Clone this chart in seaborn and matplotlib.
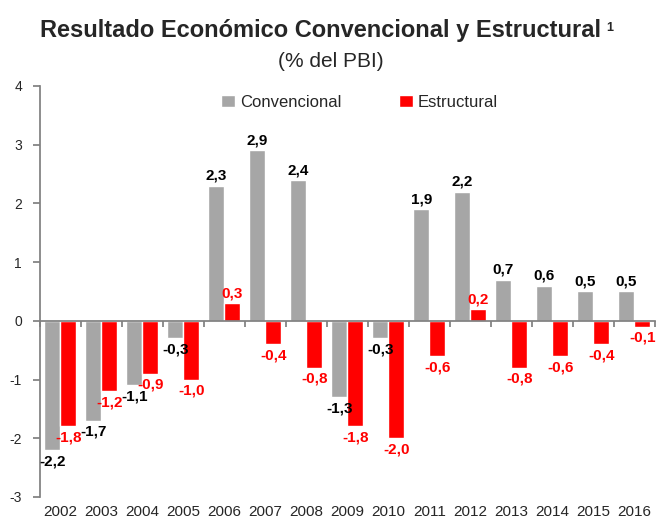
import numpy as np
import pandas as pd
import seaborn as sns
import matplotlib.pyplot as plt

# Data
years = [str(y) for y in range(2002, 2017)]
convencional = [-2.2, -1.7, -1.1, -0.3, 2.3, 2.9, 2.4, -1.3, -0.3, 1.9, 2.2, 0.7, 0.6, 0.5, 0.5]
estructural = [-1.8, -1.2, -0.9, -1.0, 0.3, -0.4, -0.8, -1.8, -2.0, -0.6, 0.2, -0.8, -0.6, -0.4, -0.1]
series_names = ["Convencional", "Estructural"]
series_colors = ["#A6A6A6", "#FF0000"]
label_colors = ["black", "#FF0000"]
yticks = [-3, -2, -1, 0, 1, 2, 3, 4]

df = pd.DataFrame({
    "year": years * 2,
    "serie": [series_names[0]] * len(years) + [series_names[1]] * len(years),
    "valor": convencional + estructural,
})

sns.set_theme(style="white")
plt.rcParams["font.family"] = ["Liberation Sans", "DejaVu Sans"]

fig = plt.figure(figsize=(6.61, 5.27), dpi=100)
ax = fig.add_axes([0.0605, 0.057, 0.93, 0.78])

sns.barplot(data=df, x="year", y="valor", hue="serie", hue_order=series_names,
            palette=series_colors, width=0.78, saturation=1, ax=ax, legend=True)

# value labels
for cont, color in zip(ax.containers, label_colors):
    for bar in cont:
        v = bar.get_height()
        x = bar.get_x() + bar.get_width() / 2
        txt = f"{v:.1f}".replace(".", ",")
        if v >= 0:
            ax.annotate(txt, (x, v), xytext=(0, 2), textcoords="offset points",
                        ha="center", va="bottom", color=color, fontsize=11, fontweight="bold")
        else:
            ax.annotate(txt, (x, v), xytext=(0, -3), textcoords="offset points",
                        ha="center", va="top", color=color, fontsize=11, fontweight="bold")

ax.set_xlim(-0.5, len(years) - 0.5)
ax.set_ylim(-3, 4)
ax.set_yticks(yticks)
ax.set_yticklabels([str(t) for t in yticks], fontsize=10)
ax.set_xlabel("")
ax.set_ylabel("")

for s in ["top", "right"]:
    ax.spines[s].set_visible(False)
ax.spines["left"].set_color("#808080")
ax.spines["bottom"].set_color("#808080")
ax.spines["bottom"].set_position(("data", 0))
ax.tick_params(axis="y", left=True, length=5, color="#808080", pad=8)

# category boundary ticks on the zero line
ax.set_xticks(np.arange(-0.5, len(years), 1.0))
ax.set_xticklabels([])
ax.tick_params(axis="x", bottom=True, length=4, color="#808080", direction="out")

# year labels at the bottom of the axes
sec = ax.secondary_xaxis(0.0)
sec.set_xticks(range(len(years)))
sec.set_xticklabels(years, fontsize=11)
sec.tick_params(length=0, pad=6)
sec.spines["bottom"].set_visible(False)

leg = ax.legend(loc="upper center", bbox_to_anchor=(0.52, 1.015), ncol=2, frameon=False,
                fontsize=12, handlelength=0.8, handleheight=0.8, handletextpad=0.3,
                columnspacing=3.5)

title = fig.text(0.485, 0.942, "Resultado Económico Convencional y Estructural",
                 ha="center", va="center", fontsize=17, fontweight="bold")
fig.text(0.5, 0.884, "(% del PBI)", ha="center", va="center", fontsize=15)

fig.canvas.draw()
bb = title.get_window_extent().transformed(fig.transFigure.inverted())
fig.text(bb.x1 + 0.008, bb.y1 - 0.005, "1", ha="left", va="top", fontsize=9, fontweight="bold")

fig.savefig("out.png", dpi=100)
